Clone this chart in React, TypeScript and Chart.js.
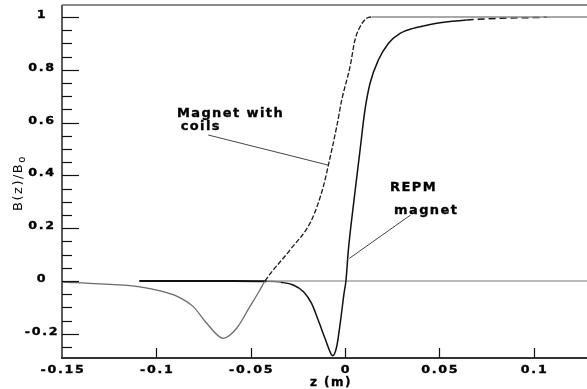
import React, { useEffect, useRef } from 'react';
import { Chart, registerables } from 'chart.js';
Chart.register(...registerables);

// "Magnet with coils" curve
const coilsZ = [-0.15, -0.13, -0.1087, -0.098, -0.0892, -0.0804, -0.0733, -0.0645, -0.0574, -0.0504, -0.0451, -0.0424, -0.0292, -0.0177, -0.0115, -0.0088, -0.0044, -0.0017, 0.0027, 0.0053, 0.008, 0.0115, 0.014, 0.1283];
const coilsB = [-0.004, -0.011, -0.022, -0.037, -0.057, -0.097, -0.16, -0.217, -0.179, -0.097, -0.034, 0.0, 0.117, 0.231, 0.357, 0.439, 0.584, 0.686, 0.812, 0.913, 0.963, 0.995, 1.0, 1.0];

// "REPM magnet" curve
const repmZ = [-0.109, -0.06, -0.0415, -0.034, -0.0274, -0.0221, -0.0177, -0.0142, -0.0106, -0.0071, -0.0065, -0.0044, -0.0023, -0.0005, 0.0005, 0.0018, 0.0048, 0.008, 0.0106, 0.0133, 0.0177, 0.023, 0.0292, 0.0362, 0.0398, 0.0504, 0.0645, 0.0822, 0.107];
const repmB = [0.0, 0.0, -0.001, -0.005, -0.015, -0.04, -0.085, -0.148, -0.217, -0.28, -0.283, -0.249, -0.148, -0.047, 0.0, 0.117, 0.307, 0.496, 0.648, 0.749, 0.837, 0.9, 0.938, 0.957, 0.963, 0.978, 0.989, 0.995, 0.999];

const xTickValues = [-0.15, -0.1, -0.05, 0, 0.05, 0.1];
const xTickLabels = ['-0.15', '-0.1', '-0.05', '0', '0.05', '0.1'];
const yTickValues = [1, 0.8, 0.6, 0.4, 0.2, 0, -0.2];
const yTickLabels = ['1', '0.8', '0.6', '0.4', '0.2', '0', '-0.2'];
const yMinorTickValues = [0.95, 0.9, 0.85, 0.75, 0.7, 0.65, 0.55, 0.5, 0.45, 0.35, 0.3, 0.25, 0.15, 0.1, 0.05, -0.05, -0.1, -0.15, -0.25];

const xTitle = 'z (m)';
const yTitleMain = 'B(z)/B';
const yTitleSub = 'o';

const TICK_FONT = 'bold 11px "DejaVu Sans"';
const ANN = 'bold 13px "DejaVu Sans"';

// draw bold text horizontally widened, with a light stroke to thicken it
function wideText(ctx: any, s: string, cx: number, by: number, align: string, stretch: number) {
  ctx.save();
  ctx.translate(cx, by);
  ctx.scale(stretch, 1);
  ctx.textAlign = align;
  ctx.fillText(s, 0, 0);
  ctx.lineWidth = 0.35;
  ctx.strokeStyle = '#000';
  ctx.strokeText(s, 0, 0);
  ctx.restore();
}

const axesPlugin = {
  id: 'customAxes',
  beforeDatasetsDraw(chart: any) {
    const { ctx, scales } = chart;
    const x = scales.x, y = scales.y;
    ctx.save();
    ctx.strokeStyle = '#7a7a7a';
    ctx.lineWidth = 1.2;
    ctx.beginPath();
    ctx.moveTo(x.getPixelForValue(-0.109), y.getPixelForValue(0));
    ctx.lineTo(chart.chartArea.right, y.getPixelForValue(0));
    ctx.stroke();
    ctx.restore();
  },
  afterDraw(chart: any) {
    const { ctx, scales, chartArea } = chart;
    const x = scales.x, y = scales.y;
    const L = chartArea.left, R = chartArea.right, T = chartArea.top, B = chartArea.bottom;
    ctx.save();
    // top border
    ctx.strokeStyle = '#8c8c8c';
    ctx.lineWidth = 2;
    ctx.beginPath(); ctx.moveTo(L, T); ctx.lineTo(R, T); ctx.stroke();
    // left axis
    ctx.strokeStyle = '#5a5a5a';
    ctx.beginPath(); ctx.moveTo(L, T); ctx.lineTo(L, B); ctx.stroke();
    // bottom axis
    ctx.strokeStyle = '#333';
    ctx.beginPath(); ctx.moveTo(L - 1, B); ctx.lineTo(R, B); ctx.stroke();

    // y ticks
    ctx.strokeStyle = '#111';
    ctx.lineWidth = 1.2;
    yTickValues.forEach(v => {
      const py = Math.round(y.getPixelForValue(v)) + 0.5;
      ctx.beginPath(); ctx.moveTo(L, py); ctx.lineTo(L + 17, py); ctx.stroke();
    });
    yMinorTickValues.forEach(v => {
      const py = Math.round(y.getPixelForValue(v)) + 0.5;
      ctx.beginPath(); ctx.moveTo(L, py); ctx.lineTo(L + 10, py); ctx.stroke();
    });
    // x ticks
    xTickValues.forEach(v => {
      if (v === -0.15) return;
      const px = Math.round(x.getPixelForValue(v)) + 0.5;
      ctx.beginPath(); ctx.moveTo(px, B); ctx.lineTo(px, B - 10); ctx.stroke();
    });

    // labels
    ctx.fillStyle = '#000';
    ctx.font = TICK_FONT;
    (ctx as any).letterSpacing = '1.5px';
    ctx.textBaseline = 'alphabetic';
    yTickValues.forEach((v, i) => {
      const py = y.getPixelForValue(v);
      wideText(ctx, yTickLabels[i], 42, py + 1, 'center', 1.15);
    });
    xTickValues.forEach((v, i) => {
      const px = x.getPixelForValue(v);
      wideText(ctx, xTickLabels[i], px + 1, 372.5, 'center', 1.15);
    });
    ctx.font = 'bold 12px "DejaVu Sans"';
    (ctx as any).letterSpacing = '1.5px';
    wideText(ctx, xTitle, 331, 386, 'center', 1.0);

    // y title
    ctx.save();
    ctx.translate(17.5, 183);
    ctx.rotate(-Math.PI / 2);
    ctx.font = '13px "DejaVu Sans"';
    (ctx as any).letterSpacing = '1.5px';
    const w1 = ctx.measureText(yTitleMain).width;
    ctx.font = '10px "DejaVu Sans"';
    const w2 = ctx.measureText(yTitleSub).width;
    const start = -(w1 + w2) / 2;
    ctx.textAlign = 'left';
    ctx.textBaseline = 'alphabetic';
    ctx.font = '13px "DejaVu Sans"';
    ctx.fillText(yTitleMain, start, 4.7);
    ctx.font = '10px "DejaVu Sans"';
    ctx.fillText(yTitleSub, start + w1, 7.5);
    ctx.restore();

    // annotations
    ctx.strokeStyle = '#444';
    ctx.lineWidth = 1;
    const line = (z1: number, v1: number, z2: number, v2: number) => {
      ctx.beginPath();
      ctx.moveTo(x.getPixelForValue(z1), y.getPixelForValue(v1));
      ctx.lineTo(x.getPixelForValue(z2), y.getPixelForValue(v2));
      ctx.stroke();
    };
    line(-0.0725, 0.553, -0.0089, 0.439);
    line(0.0348, 0.25, 0.0023, 0.0856);

    ctx.font = ANN;
    (ctx as any).letterSpacing = '1.4px';
    ctx.textBaseline = 'middle';
    const text = (s: string, z: number, v: number) =>
      wideText(ctx, s, x.getPixelForValue(z), y.getPixelForValue(v), 'left', 1.0);
    text('Magnet with', -0.0891, 0.635);
    text('coils', -0.0871, 0.584);
    text('REPM', 0.0239, 0.352);
    text('magnet', 0.026, 0.265);
    ctx.restore();
  },
};

export default function App() {
  const ref = useRef<HTMLCanvasElement>(null);
  useEffect(() => {
    if (!ref.current) return;
    const rising = (c: any) => c.p0.parsed.y > -0.0005 && c.p0.parsed.y < 0.999;
    const chart = new Chart(ref.current, {
      type: 'line',
      data: {
        datasets: [
          {
            label: 'Magnet with coils',
            data: coilsZ.map((z, i) => ({ x: z, y: coilsB[i] })),
            borderColor: '#6a6a6a',
            borderWidth: 1.3,
            pointRadius: 0,
            fill: false,
            cubicInterpolationMode: 'monotone',
            segment: {
              borderColor: (c: any) => (rising(c) ? '#1a1a1a' : c.p0.parsed.y >= 0.999 ? '#8a8a8a' : '#6a6a6a'),
              borderDash: (c: any) => (rising(c) ? [5, 2] : undefined),
              borderWidth: (c: any) => (c.p0.parsed.y >= 0.999 ? 1.6 : 1.3),
            },
          } as any,
          {
            label: 'REPM magnet',
            data: repmZ.map((z, i) => ({ x: z, y: repmB[i] })),
            borderColor: '#111',
            borderWidth: 1.5,
            pointRadius: 0,
            fill: false,
            cubicInterpolationMode: 'monotone',
            segment: {
              borderDash: (c: any) => (c.p0.parsed.x >= 0.064 ? [7, 4] : undefined),
              borderWidth: (c: any) => (c.p1.parsed.x <= -0.0415 ? 2.2 : 1.5),
              borderColor: (c: any) => (c.p0.parsed.x >= -0.0415 && c.p1.parsed.x <= -0.03 ? '#777' : '#111'),
            },
          } as any,
        ],
      },
      options: {
        animation: false,
        responsive: false,
        layout: { padding: { left: 62, top: 5, right: 0, bottom: 31 } },
        plugins: { legend: { display: false }, tooltip: { enabled: false } },
        scales: {
          x: { type: 'linear', min: -0.15, max: 0.1283, display: false },
          y: { type: 'linear', min: -0.2917, max: 1.0455, display: false },
        },
      },
      plugins: [axesPlugin],
    });
    return () => chart.destroy();
  }, []);
  return (
    <div style={{ position: 'fixed', left: 0, top: 0, width: 587, height: 389, background: '#fff' }}>
      <canvas ref={ref} width={587} height={389} style={{ width: 587, height: 389, display: 'block' }} />
    </div>
  );
}
